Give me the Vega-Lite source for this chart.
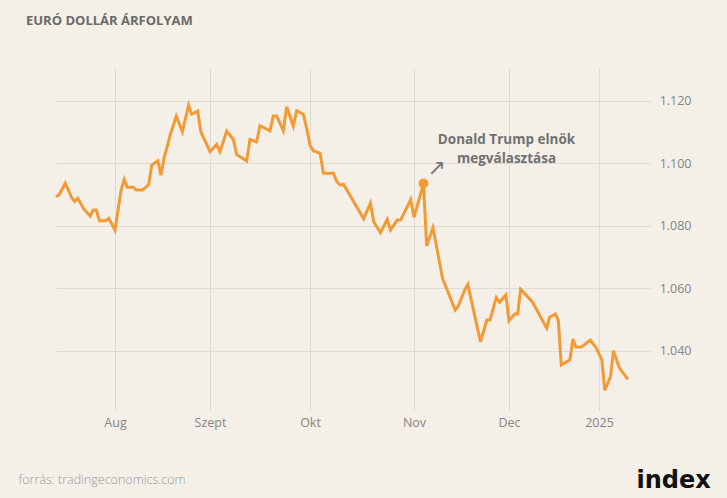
{
  "$schema": "https://vega.github.io/schema/vega-lite/v6.json",
  "width": 595,
  "height": 342,
  "autosize": {"type": "none"},
  "padding": {"left": 56, "top": 68, "right": 76, "bottom": 88},
  "background": "#f4f0e8",
  "title": {
    "text": "EURÓ DOLLÁR ÁRFOLYAM",
    "anchor": "start",
    "frame": "group",
    "orient": "top",
    "dx": -30,
    "offset": 30,
    "baseline": "alphabetic",
    "font": "Open Sans",
    "fontSize": 13,
    "fontWeight": 700,
    "color": "#6a6a6a"
  },
  "config": {
    "view": {"stroke": null},
    "font": "Open Sans"
  },
  "datasets": {
    "rates": [
      {"date": "2024-07-13", "value": 1.0893},
      {"date": "2024-07-14", "value": 1.0899},
      {"date": "2024-07-16", "value": 1.0936},
      {"date": "2024-07-18", "value": 1.0891},
      {"date": "2024-07-19", "value": 1.0878},
      {"date": "2024-07-20", "value": 1.0888},
      {"date": "2024-07-22", "value": 1.0853},
      {"date": "2024-07-24", "value": 1.0831},
      {"date": "2024-07-25", "value": 1.0850},
      {"date": "2024-07-26", "value": 1.0850},
      {"date": "2024-07-27", "value": 1.0816},
      {"date": "2024-07-29", "value": 1.0816},
      {"date": "2024-07-30", "value": 1.0824},
      {"date": "2024-08-01", "value": 1.0786},
      {"date": "2024-08-03", "value": 1.0914},
      {"date": "2024-08-04", "value": 1.0948},
      {"date": "2024-08-05", "value": 1.0923},
      {"date": "2024-08-07", "value": 1.0923},
      {"date": "2024-08-08", "value": 1.0914},
      {"date": "2024-08-10", "value": 1.0914},
      {"date": "2024-08-12", "value": 1.0932},
      {"date": "2024-08-13", "value": 1.0994},
      {"date": "2024-08-15", "value": 1.1008},
      {"date": "2024-08-16", "value": 1.0962},
      {"date": "2024-08-17", "value": 1.1016},
      {"date": "2024-08-19", "value": 1.1090},
      {"date": "2024-08-21", "value": 1.1151},
      {"date": "2024-08-23", "value": 1.1101},
      {"date": "2024-08-25", "value": 1.1186},
      {"date": "2024-08-26", "value": 1.1157},
      {"date": "2024-08-28", "value": 1.1167},
      {"date": "2024-08-29", "value": 1.1101},
      {"date": "2024-09-01", "value": 1.1037},
      {"date": "2024-09-03", "value": 1.1060},
      {"date": "2024-09-04", "value": 1.1037},
      {"date": "2024-09-06", "value": 1.1103},
      {"date": "2024-09-08", "value": 1.1076},
      {"date": "2024-09-09", "value": 1.1028},
      {"date": "2024-09-12", "value": 1.1007},
      {"date": "2024-09-13", "value": 1.1076},
      {"date": "2024-09-15", "value": 1.1069},
      {"date": "2024-09-16", "value": 1.1120},
      {"date": "2024-09-19", "value": 1.1104},
      {"date": "2024-09-20", "value": 1.1151},
      {"date": "2024-09-21", "value": 1.1151},
      {"date": "2024-09-23", "value": 1.1104},
      {"date": "2024-09-24", "value": 1.1181},
      {"date": "2024-09-26", "value": 1.1119},
      {"date": "2024-09-27", "value": 1.1168},
      {"date": "2024-09-29", "value": 1.1157},
      {"date": "2024-09-30", "value": 1.1112},
      {"date": "2024-10-01", "value": 1.1058},
      {"date": "2024-10-02", "value": 1.1040},
      {"date": "2024-10-04", "value": 1.1032},
      {"date": "2024-10-05", "value": 1.0968},
      {"date": "2024-10-08", "value": 1.0968},
      {"date": "2024-10-09", "value": 1.0941},
      {"date": "2024-10-10", "value": 1.0930},
      {"date": "2024-10-11", "value": 1.0933},
      {"date": "2024-10-17", "value": 1.0822},
      {"date": "2024-10-19", "value": 1.0872},
      {"date": "2024-10-20", "value": 1.0813},
      {"date": "2024-10-22", "value": 1.0778},
      {"date": "2024-10-24", "value": 1.0820},
      {"date": "2024-10-25", "value": 1.0786},
      {"date": "2024-10-27", "value": 1.0818},
      {"date": "2024-10-28", "value": 1.0818},
      {"date": "2024-10-30", "value": 1.0861},
      {"date": "2024-10-31", "value": 1.0884},
      {"date": "2024-11-01", "value": 1.0827},
      {"date": "2024-11-04", "value": 1.0935},
      {"date": "2024-11-05", "value": 1.0735},
      {"date": "2024-11-07", "value": 1.0794},
      {"date": "2024-11-10", "value": 1.0632},
      {"date": "2024-11-14", "value": 1.0530},
      {"date": "2024-11-15", "value": 1.0543},
      {"date": "2024-11-17", "value": 1.0594},
      {"date": "2024-11-18", "value": 1.0612},
      {"date": "2024-11-22", "value": 1.0428},
      {"date": "2024-11-24", "value": 1.0498},
      {"date": "2024-11-25", "value": 1.0498},
      {"date": "2024-11-27", "value": 1.0570},
      {"date": "2024-11-28", "value": 1.0555},
      {"date": "2024-11-30", "value": 1.0578},
      {"date": "2024-12-01", "value": 1.0496},
      {"date": "2024-12-03", "value": 1.0517},
      {"date": "2024-12-04", "value": 1.0517},
      {"date": "2024-12-05", "value": 1.0597},
      {"date": "2024-12-09", "value": 1.0557},
      {"date": "2024-12-14", "value": 1.0472},
      {"date": "2024-12-15", "value": 1.0507},
      {"date": "2024-12-17", "value": 1.0517},
      {"date": "2024-12-18", "value": 1.0496},
      {"date": "2024-12-19", "value": 1.0354},
      {"date": "2024-12-22", "value": 1.0371},
      {"date": "2024-12-23", "value": 1.0437},
      {"date": "2024-12-24", "value": 1.0412},
      {"date": "2024-12-26", "value": 1.0412},
      {"date": "2024-12-29", "value": 1.0434},
      {"date": "2024-12-31", "value": 1.0410},
      {"date": "2025-01-02", "value": 1.0370},
      {"date": "2025-01-03", "value": 1.0273},
      {"date": "2025-01-05", "value": 1.0318},
      {"date": "2025-01-06", "value": 1.0400},
      {"date": "2025-01-08", "value": 1.0346},
      {"date": "2025-01-11", "value": 1.0308}
    ],
    "events": [
      {"date": "2024-11-04", "value": 1.0935, "label": "Donald Trump elnök\nmegválasztása", "arrow": "↗"}
    ]
  },
  "encoding": {
    "x": {
      "field": "date",
      "type": "quantitative",
      "scale": {
        "type": "linear",
        "nice": false,
        "zero": false,
        "domain": [1720828800000, 1722470400000, 1725148800000, 1727740800000, 1730419200000, 1733011200000, 1735689600000, 1737244800000],
        "range": [0, 59, 154, 254, 358, 453, 543, 595]
      },
      "axis": {
        "orient": "bottom",
        "values": [1722470400000, 1725148800000, 1727740800000, 1730419200000, 1733011200000, 1735689600000],
        "labelExpr": "utcmonth(datum.value) == 0 ? utcFormat(datum.value, '%Y') : ['Jan','Feb','Márc','Ápr','Máj','Jún','Júl','Aug','Szept','Okt','Nov','Dec'][utcmonth(datum.value)]",
        "grid": true,
        "gridColor": "#dedad2",
        "gridWidth": 1,
        "domain": false,
        "ticks": false,
        "labelPadding": 6,
        "labelFont": "Open Sans",
        "labelFontSize": 12.5,
        "labelColor": "#858585",
        "labelBaseline": "top",
        "labelFlush": false,
        "labelOverlap": false,
        "title": "forrás: tradingeconomics.com",
        "titleX": -38,
        "titleY": 69,
        "titleAlign": "left",
        "titleAnchor": "start",
        "titleBaseline": "middle",
        "titleFont": "Open Sans",
        "titleFontSize": 12.5,
        "titleFontWeight": 300,
        "titleColor": "#9a9a9a"
      }
    },
    "y": {
      "field": "value",
      "type": "quantitative",
      "scale": {"domain": [1.021, 1.1305], "nice": false, "zero": false},
      "axis": {
        "orient": "right",
        "values": [1.04, 1.06, 1.08, 1.1, 1.12],
        "format": ".3f",
        "grid": true,
        "gridColor": "#dedad2",
        "gridWidth": 1,
        "domain": false,
        "ticks": false,
        "labelAlign": "right",
        "labelPadding": 40,
        "labelFont": "Open Sans",
        "labelFontSize": 12.5,
        "labelColor": "#858585",
        "title": "index",
        "titleAngle": 0,
        "titleX": -15,
        "titleY": 412,
        "titleAlign": "left",
        "titleBaseline": "middle",
        "titleFont": "DejaVu Sans",
        "titleFontSize": 24,
        "titleFontWeight": "bold",
        "titleColor": "#111111"
      }
    }
  },
  "layer": [
    {
      "data": {"name": "rates", "format": {"parse": {"date": "date"}}},
      "mark": {"type": "line", "color": "#f29a35", "strokeWidth": 3, "strokeJoin": "miter", "strokeMiterLimit": 4}
    },
    {
      "data": {"name": "events", "format": {"parse": {"date": "date"}}},
      "mark": {"type": "point", "filled": true, "opacity": 1, "size": 100, "color": "#f29a35"}
    },
    {
      "data": {"name": "events", "format": {"parse": {"date": "date"}}},
      "mark": {"type": "text", "font": "DejaVu Sans", "fontSize": 22, "color": "#777777", "dx": 13, "dy": -16, "align": "center", "baseline": "middle"},
      "encoding": {"text": {"field": "arrow", "type": "nominal"}}
    },
    {
      "data": {"name": "events", "format": {"parse": {"date": "date"}}},
      "mark": {"type": "text", "font": "Open Sans", "fontSize": 13.5, "fontWeight": 700, "color": "#707070", "dx": 83, "dy": -51, "align": "center", "baseline": "top", "lineBreak": "\n", "lineHeight": 19},
      "encoding": {"text": {"field": "label", "type": "nominal"}}
    }
  ]
}
